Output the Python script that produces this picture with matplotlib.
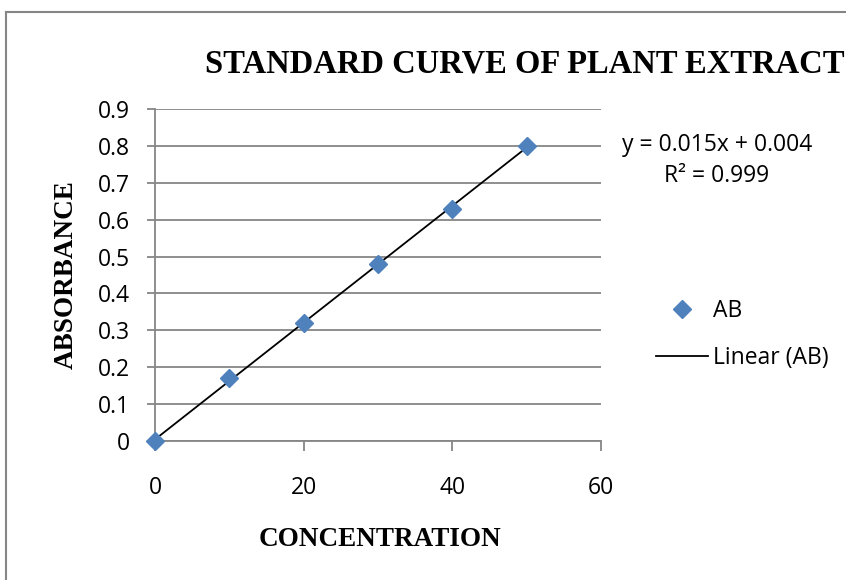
import numpy as np
import matplotlib
matplotlib.use("Agg")
import matplotlib.pyplot as plt
from matplotlib.lines import Line2D

# data
conc = [0, 10, 20, 30, 40, 50]
absorb = [0.0, 0.17, 0.32, 0.48, 0.63, 0.80]
eq_text = "y = 0.015x + 0.004"
r2_text = "R² = 0.999"

xticks = [0, 20, 40, 60]
yticks = [0, 0.1, 0.2, 0.3, 0.4, 0.5, 0.6, 0.7, 0.8, 0.9]

W, H = 846, 580
fig = plt.figure(figsize=(W / 100, H / 100), dpi=100)

grey = "#868686"
blue = "#4F81BD"
tickfont = ["Open Sans", "DejaVu Sans"]
serif = ["Liberation Serif", "DejaVu Serif"]
fs = 16.5

# chart border (runs off the right and bottom edges)
fig.add_artist(Line2D([6 / W, 6 / W], [0, 1 - 12 / H], transform=fig.transFigure,
                      color=grey, lw=1.5))
fig.add_artist(Line2D([6 / W, 1], [1 - 12 / H, 1 - 12 / H], transform=fig.transFigure,
                      color=grey, lw=1.5))

ax = fig.add_axes([155 / W, 1 - 441 / H, 446 / W, 332 / H])

# linear trendline
slope, icpt = np.polyfit(conc, absorb, 1)
xl = np.array([min(conc), max(conc)])
ax.plot(xl, slope * xl + icpt, color="black", lw=1.3, zorder=3)
ax.plot(conc, absorb, linestyle="none", marker="D", markersize=9.5,
        color=blue, zorder=4, clip_on=False)

ax.set_xlim(0, 60)
ax.set_ylim(0, 0.9)
ax.set_xticks(xticks)
ax.set_yticks(yticks)
ax.set_xticklabels([str(t) for t in xticks])
ax.set_yticklabels(["0"] + [f"{t:.1f}" for t in yticks[1:]])
for lab in ax.get_xticklabels() + ax.get_yticklabels():
    lab.set_fontfamily(tickfont)
    lab.set_fontsize(fs)
ax.tick_params(axis="both", colors=grey, labelcolor="black", width=1.3)
ax.tick_params(axis="y", length=6, pad=12)
ax.tick_params(axis="x", length=7, pad=18)
ax.yaxis.grid(True, color=grey, lw=1.3)
ax.set_axisbelow(True)
for s in ["top", "right"]:
    ax.spines[s].set_visible(False)
for s in ["left", "bottom"]:
    ax.spines[s].set_color(grey)
    ax.spines[s].set_linewidth(1.3)

fig.text(205 / W, 1 - 64 / H, "STANDARD CURVE OF PLANT EXTRACT", ha="left",
         va="center", fontsize=23.5, fontweight="bold", family=serif)
fig.text(66 / W, 1 - 275 / H, "ABSORBANCE", rotation=90, ha="center",
         va="center", fontsize=19.5, fontweight="bold", family=serif)
fig.text(380 / W, 1 - 540 / H, "CONCENTRATION", ha="center", va="center",
         fontsize=19.5, fontweight="bold", family=serif)

fig.text(717 / W, 1 - 145 / H, eq_text, ha="center", va="center",
         fontsize=fs, family=tickfont)
fig.text(717 / W, 1 - 176 / H, r2_text, ha="center", va="center",
         fontsize=fs, family=tickfont)

handles = [
    Line2D([], [], linestyle="none", marker="D", markersize=9.5, color=blue),
    Line2D([], [], color="black", lw=1.3),
]
fig.legend(handles, ["AB", "Linear (AB)"], loc="upper left",
           bbox_to_anchor=(656 / W, 1 - 299 / H), frameon=False,
           prop={"family": tickfont, "size": fs}, handlelength=2.27,
           handletextpad=0.2, labelspacing=1.0, borderpad=0,
           borderaxespad=0)

fig.savefig("out.png", dpi=100)
